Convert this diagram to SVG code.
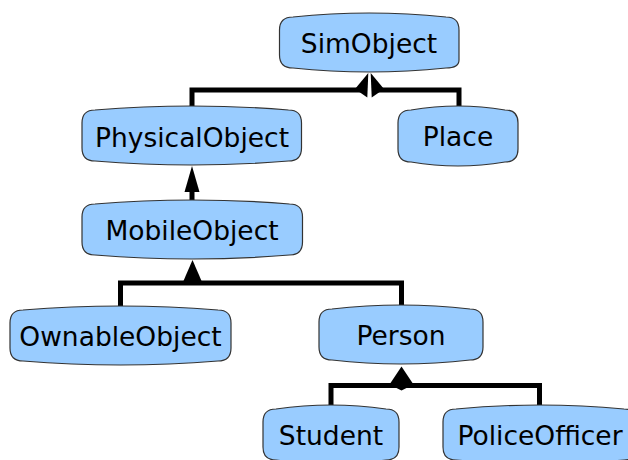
<svg xmlns="http://www.w3.org/2000/svg" width="628" height="460" viewBox="0 0 628 460">
<style>
.node{fill:#99ccff;stroke:#333;stroke-width:1.2}
.lbl{font-family:"DejaVu Sans",sans-serif;font-size:26.5px;fill:#000;text-anchor:middle}
.wire{fill:none;stroke:#000;stroke-width:5;stroke-linejoin:miter}
.head{fill:#000;stroke:none}
</style>
<rect width="628" height="460" fill="#fff"/>
<g id="connectors">
<path class="wire" d="M192,106 V90 H362"/>
<path class="wire" d="M459,106 V90 H377"/>
<polygon class="head" points="368.3,73 355,89 367.3,97.5"/>
<polygon class="head" points="370.7,73 384,89 371.7,97.5"/>
<path class="wire" d="M192,200 V188"/>
<polygon class="head" points="192,166 184.5,192 199.5,192"/>
<path class="wire" d="M120.5,306 V283 H401.5 V305"/>
<polygon class="head" points="192.5,260 183,282 202,282"/>
<path class="wire" d="M331,405 V385.5 H539.5 V405"/>
<polygon class="head" points="401.5,366.5 389.5,384.5 401.5,390.5 413.5,384.5"/>
</g>
<g id="SimObject">
<path class="node" d="M293,17 Q369,9 446,17 Q459,17 459,30 V60 Q459,68 446,68 Q369,76 293,68 Q279.5,68 279.5,55 V30 Q279.5,17 293,17 Z"/>
<text class="lbl" x="369" y="53">SimObject</text>
</g>
<g id="PhysicalObject">
<path class="node" d="M95,110 Q192,102 288.5,110 Q301.5,110 301.5,123 V148 Q301.5,161 288.5,161 Q192,169 95,161 Q82,161 82,148 V123 Q82,110 95,110 Z"/>
<text class="lbl" x="192" y="146.5">PhysicalObject</text>
</g>
<g id="Place">
<path class="node" d="M411,110 Q458,102 505,110 Q518,110 518,123 V149 Q518,162 505,162 Q458,170 411,162 Q398,162 398,149 V123 Q398,110 411,110 Z"/>
<text class="lbl" x="458" y="146">Place</text>
</g>
<g id="MobileObject">
<path class="node" d="M95,204 Q192,196 289.5,204 Q302.5,204 302.5,217 V242 Q302.5,255 289.5,255 Q192,263 95,255 Q82,255 82,242 V217 Q82,204 95,204 Z"/>
<text class="lbl" x="192" y="240">MobileObject</text>
</g>
<g id="OwnableObject">
<path class="node" d="M23,310 Q120.5,302 218,310 Q231,310 231,323 V348 Q231,361 218,361 Q120.5,369 23,361 Q10,361 10,348 V323 Q10,310 23,310 Z"/>
<text class="lbl" x="120.5" y="346">OwnableObject</text>
</g>
<g id="Person">
<path class="node" d="M332,309 Q401,301 470,309 Q483,309 483,322 V347 Q483,360 470,360 Q401,368 332,360 Q319,360 319,347 V322 Q319,309 332,309 Z"/>
<text class="lbl" x="401" y="345">Person</text>
</g>
<g id="Student">
<path class="node" d="M276,409 Q331,401 386,409 Q399,409 399,422 V447 Q399,460 386,460 Q331,468 276,460 Q263,460 263,447 V422 Q263,409 276,409 Z"/>
<text class="lbl" x="331" y="445">Student</text>
</g>
<g id="PoliceOfficer">
<path class="node" d="M456,409 Q540,401 624,409 Q637,409 637,422 V447 Q637,460 624,460 Q540,468 456,460 Q443,460 443,447 V422 Q443,409 456,409 Z"/>
<text class="lbl" x="540" y="445">PoliceOfficer</text>
</g>
</svg>
